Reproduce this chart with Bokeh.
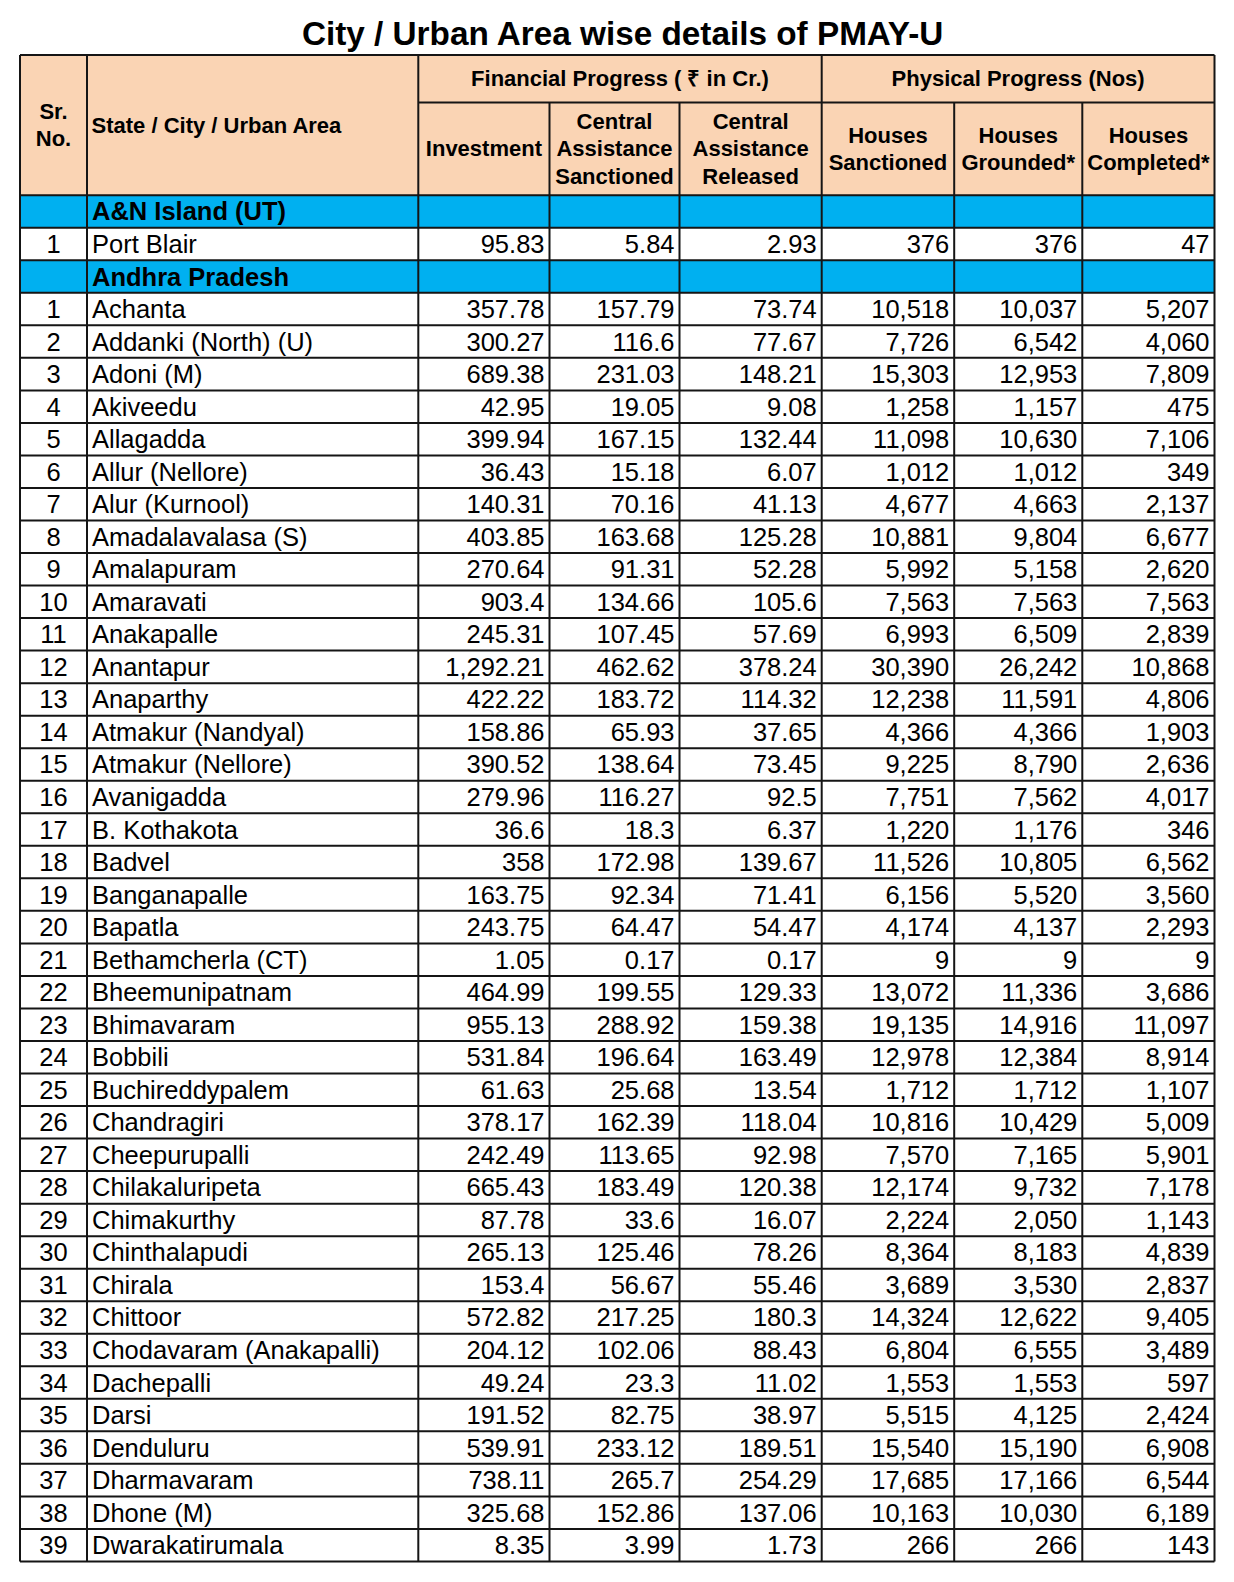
from bokeh.plotting import figure
from bokeh.models import Range1d
from bokeh.core.properties import value
from bokeh.embed import file_html
from bokeh.resources import INLINE

# ---------------- data ----------------
title = "City / Urban Area wise details of PMAY-U"
state_names = ["A&N Island (UT)", "Andhra Pradesh"]
state_counts = [1, 39]
cities = [
    "Port Blair",
    "Achanta", "Addanki (North) (U)", "Adoni (M)", "Akiveedu", "Allagadda",
    "Allur (Nellore)", "Alur (Kurnool)", "Amadalavalasa (S)", "Amalapuram", "Amaravati",
    "Anakapalle", "Anantapur", "Anaparthy", "Atmakur (Nandyal)", "Atmakur (Nellore)",
    "Avanigadda", "B. Kothakota", "Badvel", "Banganapalle", "Bapatla",
    "Bethamcherla (CT)", "Bheemunipatnam", "Bhimavaram", "Bobbili", "Buchireddypalem",
    "Chandragiri", "Cheepurupalli", "Chilakaluripeta", "Chimakurthy", "Chinthalapudi",
    "Chirala", "Chittoor", "Chodavaram (Anakapalli)", "Dachepalli", "Darsi",
    "Denduluru", "Dharmavaram", "Dhone (M)", "Dwarakatirumala",
]
investment = [
    95.83,
    357.78, 300.27, 689.38, 42.95, 399.94, 36.43, 140.31, 403.85, 270.64, 903.4,
    245.31, 1292.21, 422.22, 158.86, 390.52, 279.96, 36.6, 358, 163.75, 243.75,
    1.05, 464.99, 955.13, 531.84, 61.63, 378.17, 242.49, 665.43, 87.78, 265.13,
    153.4, 572.82, 204.12, 49.24, 191.52, 539.91, 738.11, 325.68, 8.35,
]
central_sanctioned = [
    5.84,
    157.79, 116.6, 231.03, 19.05, 167.15, 15.18, 70.16, 163.68, 91.31, 134.66,
    107.45, 462.62, 183.72, 65.93, 138.64, 116.27, 18.3, 172.98, 92.34, 64.47,
    0.17, 199.55, 288.92, 196.64, 25.68, 162.39, 113.65, 183.49, 33.6, 125.46,
    56.67, 217.25, 102.06, 23.3, 82.75, 233.12, 265.7, 152.86, 3.99,
]
central_released = [
    2.93,
    73.74, 77.67, 148.21, 9.08, 132.44, 6.07, 41.13, 125.28, 52.28, 105.6,
    57.69, 378.24, 114.32, 37.65, 73.45, 92.5, 6.37, 139.67, 71.41, 54.47,
    0.17, 129.33, 159.38, 163.49, 13.54, 118.04, 92.98, 120.38, 16.07, 78.26,
    55.46, 180.3, 88.43, 11.02, 38.97, 189.51, 254.29, 137.06, 1.73,
]
houses_sanctioned = [
    376,
    10518, 7726, 15303, 1258, 11098, 1012, 4677, 10881, 5992, 7563,
    6993, 30390, 12238, 4366, 9225, 7751, 1220, 11526, 6156, 4174,
    9, 13072, 19135, 12978, 1712, 10816, 7570, 12174, 2224, 8364,
    3689, 14324, 6804, 1553, 5515, 15540, 17685, 10163, 266,
]
houses_grounded = [
    376,
    10037, 6542, 12953, 1157, 10630, 1012, 4663, 9804, 5158, 7563,
    6509, 26242, 11591, 4366, 8790, 7562, 1176, 10805, 5520, 4137,
    9, 11336, 14916, 12384, 1712, 10429, 7165, 9732, 2050, 8183,
    3530, 12622, 6555, 1553, 4125, 15190, 17166, 10030, 266,
]
houses_completed = [
    47,
    5207, 4060, 7809, 475, 7106, 349, 2137, 6677, 2620, 7563,
    2839, 10868, 4806, 1903, 2636, 4017, 346, 6562, 3560, 2293,
    9, 3686, 11097, 8914, 1107, 5009, 5901, 7178, 1143, 4839,
    2837, 9405, 3489, 597, 2424, 6908, 6544, 6189, 143,
]
col_headers = [
    ["Sr.", "No."],
    ["State / City / Urban Area"],
    ["Investment"],
    ["Central", "Assistance", "Sanctioned"],
    ["Central", "Assistance", "Released"],
    ["Houses", "Sanctioned"],
    ["Houses", "Grounded*"],
    ["Houses", "Completed*"],
]
group_headers = ["Financial Progress ( \u20b9 in Cr.)", "Physical Progress (Nos)"]

# ---------------- layout ----------------
FONT = value("Liberation Sans")
col_edges = [19.5, 86.5, 417.8, 549.0, 679.0, 821.2, 953.7, 1081.8, 1214.0]
top, hdr_mid, hdr_bot = 54.5, 101.9, 194.7
row_h = 32.53
HEAD_BG = "#FAD4B4"
GROUP_BG = "#00B0F0"
LINE = "#151515"


def fmt_num(v):
    if float(v) == int(v):
        return f"{int(v):,}"
    return f"{v:,}"


p = figure(width=1218, height=1566, output_backend="svg", toolbar_location=None,
           x_range=Range1d(0, 1218), y_range=Range1d(1566, 0), min_border=0)
p.axis.visible = False
p.grid.visible = False
p.outline_line_color = None
p.background_fill_color = "white"
p.border_fill_color = "white"

# build row list
rows = []
ci = 0
for s, n in zip(state_names, state_counts):
    rows.append(("group", s))
    for k in range(n):
        rows.append(("city", (k + 1, ci)))
        ci += 1
n_rows = len(rows)
bottom = hdr_bot + n_rows * row_h

# backgrounds
p.quad(left=[col_edges[0]], right=[col_edges[-1]], top=[top], bottom=[hdr_bot],
       fill_color=HEAD_BG, line_color=None)
g_tops = [hdr_bot + i * row_h for i, r in enumerate(rows) if r[0] == "group"]
p.quad(left=[col_edges[0]] * len(g_tops), right=[col_edges[-1]] * len(g_tops),
       top=g_tops, bottom=[t + row_h for t in g_tops], fill_color=GROUP_BG, line_color=None)

# title
p.text(x=[(col_edges[0] + col_edges[-1]) / 2 + 6], y=[32.8], text=[title],
       text_font=FONT, text_font_style="bold", text_font_size="33.3px",
       text_align="center", text_baseline="middle", text_color="black")

# header texts
hx, hy, ht = [], [], []
sub_mid = (hdr_mid + hdr_bot) / 2
full_mid = (top + hdr_bot) / 2
lead = 27.6
for j, lines in enumerate(col_headers):
    if j == 1:
        continue
    cx = (col_edges[j] + col_edges[j + 1]) / 2
    mid = full_mid if j == 0 else sub_mid
    n = len(lines)
    for k, ln in enumerate(lines):
        hx.append(cx)
        hy.append(mid + (k - (n - 1) / 2) * lead)
        ht.append(ln)
for g, (a, b) in zip(group_headers, [(2, 5), (5, 8)]):
    hx.append((col_edges[a] + col_edges[b]) / 2)
    hy.append((top + hdr_mid) / 2)
    ht.append(g)
p.text(x=hx, y=hy, text=ht, text_font=FONT, text_font_style="bold",
       text_font_size="22px", text_align="center", text_baseline="middle", text_color="black")
p.text(x=[col_edges[1] + 4.5], y=[full_mid], text=[col_headers[1][0]], text_font=FONT,
       text_font_style="bold", text_font_size="22px", text_align="left",
       text_baseline="middle", text_color="black")

# body texts
pad = 5
gx, gy, gt = [], [], []
sx, sy, st = [], [], []
nx, ny, nt = [], [], []
rx, ry, rt = [], [], []
num_cols = [investment, central_sanctioned, central_released,
            houses_sanctioned, houses_grounded, houses_completed]
for i, (kind, payload) in enumerate(rows):
    yc = hdr_bot + (i + 0.5) * row_h
    if kind == "group":
        gx.append(col_edges[1] + pad); gy.append(yc); gt.append(payload)
    else:
        sr, idx = payload
        sx.append((col_edges[0] + col_edges[1]) / 2); sy.append(yc); st.append(str(sr))
        nx.append(col_edges[1] + pad); ny.append(yc); nt.append(cities[idx])
        for j, arr in enumerate(num_cols):
            rx.append(col_edges[j + 3] - pad); ry.append(yc); rt.append(fmt_num(arr[idx]))

p.text(x=gx, y=gy, text=gt, text_font=FONT, text_font_style="bold", text_font_size="25.5px",
       text_align="left", text_baseline="middle", text_color="black")
common = dict(text_font=FONT, text_font_size="25.5px", text_baseline="middle", text_color="black")
p.text(x=sx, y=sy, text=st, text_align="center", **common)
p.text(x=nx, y=ny, text=nt, text_align="left", **common)
p.text(x=rx, y=ry, text=rt, text_align="right", **common)

# grid lines
xs, ys = [], []
for yv in [top, hdr_bot] + [hdr_bot + (i + 1) * row_h for i in range(n_rows)]:
    xs.append([col_edges[0], col_edges[-1]]); ys.append([yv, yv])
xs.append([col_edges[2], col_edges[-1]]); ys.append([hdr_mid, hdr_mid])
for j, xv in enumerate(col_edges):
    y0 = hdr_mid if j in (3, 4, 6, 7) else top
    xs.append([xv, xv]); ys.append([y0, bottom])
p.multi_line(xs=xs, ys=ys, line_color=LINE, line_width=2)

open("out.html", "w").write(file_html(p, INLINE))
